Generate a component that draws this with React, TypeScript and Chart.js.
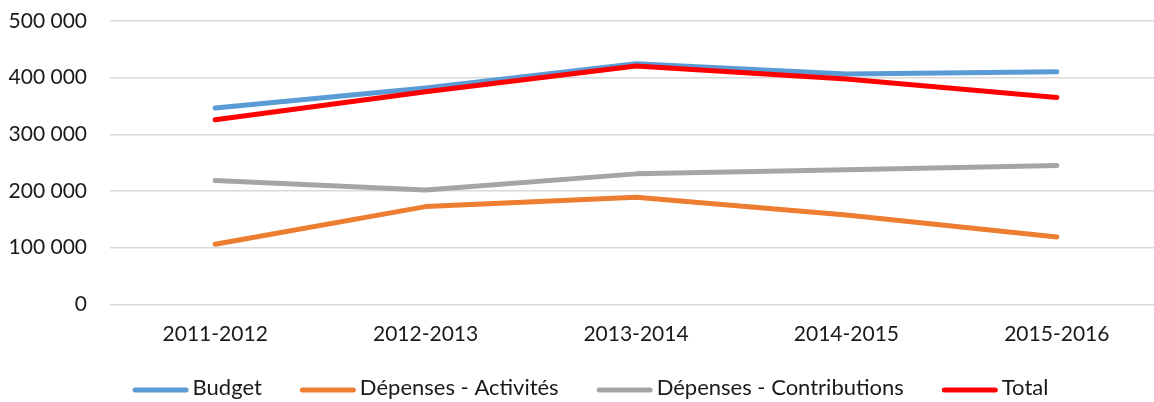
import React, { useEffect, useRef } from "react";
import { Chart, registerables } from "chart.js";

Chart.register(...registerables);

const categories = ["2011-2012", "2012-2013", "2013-2014", "2014-2015", "2015-2016"];
const budget = [346300, 381600, 424600, 406400, 410400];
const depensesActivites = [106000, 172400, 189000, 157800, 118900];
const depensesContributions = [218400, 201900, 230200, 237300, 244900];
const total = [325600, 375100, 420500, 397500, 365000];
const yTicks = [0, 100000, 200000, 300000, 400000, 500000];

const fmt = (v: number) => String(v).replace(/\B(?=(\d{3})+(?!\d))/g, " ");

const legendPlugin = {
  id: "customLegend",
  afterDraw(chart: any) {
    const ctx = chart.ctx;
    const ds = chart.data.datasets;
    ctx.save();
    ctx.font = "22px Lato";
    const lineLen = 51;
    const cap = 2.5;
    const gap = 4;
    const spacing = 38;
    const widths = ds.map((d: any) => ctx.measureText(d.label).width);
    let totalW = 0;
    widths.forEach((w: number, i: number) => {
      totalW += lineLen + 2 * cap + gap + w + (i > 0 ? spacing : 0);
    });
    let x = 590.5 - totalW / 2;
    const yLine = 390;
    const yText = 388;
    ds.forEach((d: any, i: number) => {
      ctx.beginPath();
      ctx.strokeStyle = d.borderColor;
      ctx.lineWidth = 5;
      ctx.lineCap = "round";
      ctx.moveTo(x + cap, yLine);
      ctx.lineTo(x + cap + lineLen, yLine);
      ctx.stroke();
      x += lineLen + 2 * cap + gap;
      ctx.fillStyle = "#1a1a1a";
      ctx.textBaseline = "middle";
      ctx.textAlign = "left";
      ctx.fillText(d.label, x, yText);
      x += widths[i] + spacing;
    });
    ctx.restore();
  },
};

export default function App() {
  const ref = useRef<HTMLCanvasElement>(null);
  useEffect(() => {
    if (!ref.current) return;
    const font = { family: "Lato", size: 21 };
    const mk = (label: string, data: number[], color: string, order: number) => ({
      label,
      data,
      borderColor: color,
      backgroundColor: color,
      borderWidth: 5,
      borderCapStyle: "round" as const,
      borderJoinStyle: "round" as const,
      pointRadius: 0,
      pointHoverRadius: 0,
      tension: 0,
      order,
    });
    const chart = new Chart(ref.current, {
      type: "line",
      data: {
        labels: categories,
        datasets: [
          mk("Budget", budget, "#5B9BD5", 3),
          mk("Dépenses - Activités", depensesActivites, "#ED7D31", 2),
          mk("Dépenses - Contributions", depensesContributions, "#A5A5A5", 1),
          mk("Total", total, "#FF0000", 0),
        ],
      },
      plugins: [legendPlugin],
      options: {
        animation: false,
        responsive: false,
        maintainAspectRatio: false,
        layout: { padding: { top: 21, right: 20, left: 0, bottom: 0 } },
        plugins: {
          tooltip: { enabled: false },
          legend: { display: false },
        },
        scales: {
          x: {
            offset: true,
            afterFit: (s: any) => {
              s.height = 97.7;
              s.paddingLeft = 0;
              s.paddingRight = 0;
            },
            grid: { display: false, drawTicks: false },
            border: { display: false },
            ticks: { font, color: "#1a1a1a", padding: 17, maxRotation: 0 },
          },
          y: {
            min: 0,
            max: 500000,
            afterFit: (s: any) => {
              s.width = 110;
              s.paddingTop = 0;
              s.paddingBottom = 0;
            },
            afterBuildTicks: (s: any) => {
              s.ticks = yTicks.map((v) => ({ value: v }));
            },
            grid: { color: "#D9D9D9", lineWidth: 1.5, drawTicks: false },
            border: { display: false },
            ticks: {
              font,
              color: "#1a1a1a",
              padding: 23,
              callback: (v: any) => fmt(Number(v)),
            },
          },
        },
      },
    });
    return () => chart.destroy();
  }, []);
  return (
    <div
      style={{
        position: "fixed",
        left: 0,
        top: 0,
        width: 1154,
        height: 402,
        overflow: "hidden",
        background: "#fff",
      }}
    >
      <canvas ref={ref} width={1182} height={402} style={{ display: "block" }} />
    </div>
  );
}
